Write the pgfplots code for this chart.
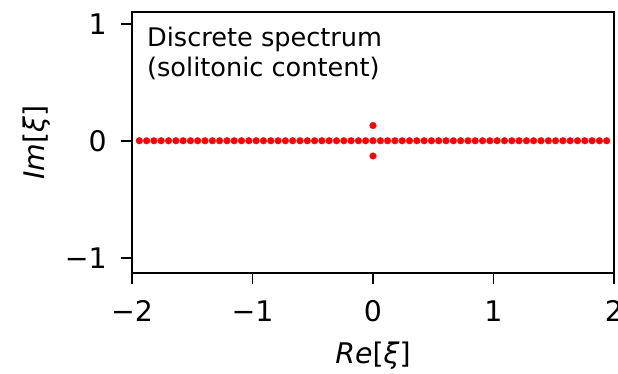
\documentclass[border=0pt]{standalone}
\usepackage{pgfplots}
\pgfplotsset{compat=1.18}
\usepackage{fontspec}
\setmainfont{DejaVu Sans}
\newfontfamily\annfont{DejaVu Sans}

% eigenvalues on the real axis (continuous part sampled)
\pgfplotstableread{
x y
-1.939 0
-1.879 0
-1.818 0
-1.758 0
-1.697 0
-1.636 0
-1.576 0
-1.515 0
-1.455 0
-1.394 0
-1.333 0
-1.273 0
-1.212 0
-1.152 0
-1.091 0
-1.030 0
-0.970 0
-0.909 0
-0.848 0
-0.788 0
-0.727 0
-0.667 0
-0.606 0
-0.545 0
-0.485 0
-0.424 0
-0.364 0
-0.303 0
-0.242 0
-0.182 0
-0.121 0
-0.061 0
0.000 0
0.061 0
0.121 0
0.182 0
0.242 0
0.303 0
0.364 0
0.424 0
0.485 0
0.545 0
0.606 0
0.667 0
0.727 0
0.788 0
0.848 0
0.909 0
0.970 0
1.030 0
1.091 0
1.152 0
1.212 0
1.273 0
1.333 0
1.394 0
1.455 0
1.515 0
1.576 0
1.636 0
1.697 0
1.758 0
1.818 0
1.879 0
1.939 0
}\realaxis

% soliton eigenvalue pair
\pgfplotstableread{
x y
0 0.13
0 -0.13
}\solitons

\begin{document}
\begin{tikzpicture}
\begin{axis}[
  scale only axis,
  width=482bp, height=261bp,
  xmin=-2, xmax=2, ymin=-1.13, ymax=1.1,
  axis line style={line width=1.6bp},
  tick align=outside,
  xtick pos=bottom, ytick pos=left,
  major tick length=11bp,
  every tick/.style={black, line width=1.6bp},
  xtick={-2,-1,0,1,2},
  xticklabels={−2,−1,0,1,2},
  ytick={-1,0,1},
  yticklabels={−1,0,1},
  tick label style={font=\fontsize{28.5}{30}\selectfont, inner sep=0pt},
  xticklabel style={anchor=base, yshift=-37bp},
  yticklabel style={anchor=east, xshift=-14bp},
  xlabel={\textit{Re}[\textit{ξ}]},
  ylabel={\textit{Im}[\textit{ξ}]},
  label style={font=\fontsize{28.5}{30}\selectfont, inner sep=0pt},
  xlabel style={at={(axis description cs:0.5,-0.345)}, anchor=base},
  ylabel style={at={(axis description cs:-0.182,0.5)}, anchor=base, rotate=0},
  clip=false,
]
\addplot[only marks, mark=*, mark size=3.3bp, red, mark options={draw=red, fill=red}] table {\realaxis};
\addplot[only marks, mark=*, mark size=3.3bp, red, mark options={draw=red, fill=red}] table {\solitons};
\node[anchor=base west, inner sep=0pt, font=\annfont\fontsize{25.7}{30}\selectfont]
  at (axis description cs:0.031,0.8667) {Discrete spectrum};
\node[anchor=base west, inner sep=0pt, font=\annfont\fontsize{25.7}{30}\selectfont]
  at (axis description cs:0.031,0.7517) {(solitonic content)};
\end{axis}
\pgfresetboundingbox
\path[use as bounding box] (-132bp,-101bp) rectangle (486bp,273bp);
\end{tikzpicture}
\end{document}
